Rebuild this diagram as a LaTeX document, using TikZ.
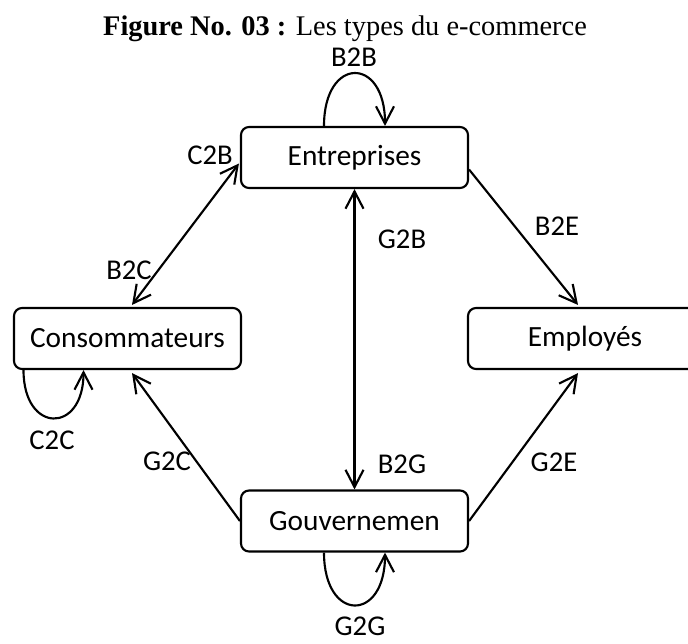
\documentclass[tikz,border=0pt]{standalone}
\usepackage{fontspec}
\setmainfont{Liberation Serif}
\newfontfamily\labelfont{Carlito}
\usetikzlibrary{arrows.meta,calc}
\begin{document}
\begin{tikzpicture}[x=0.75pt,y=-0.75pt,
  box/.style={draw,line width=1.6pt,rounded corners=6pt,minimum width=170.25pt,
    minimum height=45.75pt,inner sep=0pt,font=\labelfont\fontsize{22}{26}\selectfont},
  barb/.tip={Straight Barb[length=13pt,width=13.5pt,line width=1.6pt]},
  link/.style={line width=1.6pt,-barb},
  dlink/.style={line width=1.6pt,barb-barb},
  tag/.style={font=\labelfont\fontsize{21.5}{25}\selectfont,inner sep=0pt}]
\clip (0,0) rectangle (688,643);

% title
\node[anchor=base,inner sep=0pt,font=\fontsize{21.3}{25}\selectfont] (title) at (345,35)
  {\textbf{Figure No. 03 :} Les types du e-commerce};

% actors
\node[box] (ent)  at (354.5,157.5) {Entreprises};
\node[box] (cons) at (127.5,338.5) {Consommateurs};
\node[box,minimum width=175.5pt] (emp) at (585,338.5) {Employés};
\node[box] (gov)  at (354.5,521) {Gouvernemen};

% self loops
\draw[link] ($(ent.north)+(-30.5,0)$) .. controls +(0,-70) and +(0,-70) .. ($(ent.north)+(30.5,0)$);
\draw[link] ($(cons.south)+(-104,0)$) .. controls +(0,64) and +(0,64) .. ($(cons.south)+(-44,0)$);
\draw[link] ($(gov.south)+(-30.5,0)$) .. controls +(0,70) and +(0,70) .. ($(gov.south)+(30.5,0)$);

% exchanges between actors
\draw[dlink] ($(ent.west)+(-1,6)$) -- ($(cons.north)+(4.5,-2)$);
\draw[dlink] (ent.south) -- (gov.north);
\draw[link] ($(ent.east)+(0,12)$) -- ($(emp.north)+(-7,-2)$);
\draw[link] (gov.west) -- ($(cons.south)+(4.5,3)$);
\draw[link] (gov.east) -- ($(emp.south)+(-7,3)$);

% labels
\node[tag] (lb2b) at (354,57) {B2B};
\node[tag] (lc2b) at (210,155) {C2B};
\node[tag] (lb2c) at (129,270) {B2C};
\node[tag] (lg2b) at (402,239) {G2B};
\node[tag] (lb2e) at (557,226) {B2E};
\node[tag] (lc2c) at (52,440) {C2C};
\node[tag] (lg2c) at (167,461) {G2C};
\node[tag] (lb2g) at (402,464) {B2G};
\node[tag] (lg2e) at (554,462) {G2E};
\node[tag] (lg2g) at (360,626) {G2G};
\end{tikzpicture}
\end{document}
